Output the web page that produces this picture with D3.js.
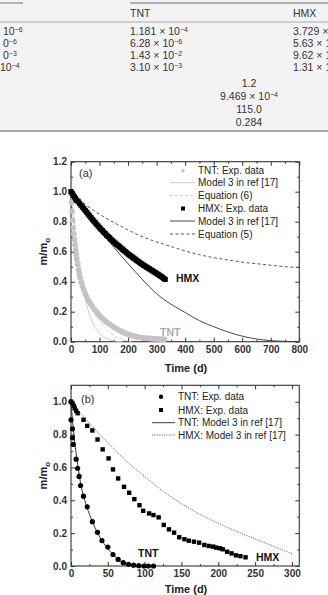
<!DOCTYPE html>
<html><head><meta charset="utf-8">
<script src="https://cdn.jsdelivr.net/npm/d3@7"></script>
<style>body{margin:0;background:#fff}svg{display:block}</style></head>
<body><svg id="c" width="328" height="595"></svg>
<script>
// ---------- table fragment data ----------
const tableHeaders = ["TNT", "HMX"];
const tableLeft = ["10^-6", "0^-6", "0^-3", "10^-4"];
const tableTNT = ["1.181 × 10^-4", "6.28 × 10^-6", "1.43 × 10^-2", "3.10 × 10^-3"];
const tableHMX = ["3.729 ×", "5.63 × 1", "9.62 × 1", "1.31 × 1"];
const tableShared = ["1.2", "9.469 × 10^-4", "115.0", "0.284"];

// ---------- panel (a) data ----------
const xTicksA = [0, 100, 200, 300, 400, 500, 600, 700, 800];
const yTicksA = [0.0, 0.2, 0.4, 0.6, 0.8, 1.0, 1.2];
const tntExpA = [[0,1.0],[2,0.93],[4,0.87],[6,0.81],[8,0.76],[10,0.72],[12,0.68],[14,0.645],[16,0.61],[18,0.58],[20,0.55],[23,0.515],[26,0.48],[29,0.45],[32,0.425],[36,0.395],[40,0.37],[45,0.345],[50,0.32],[55,0.30],[60,0.28],[65,0.265],[70,0.25],[75,0.235],[80,0.22],[85,0.21],[90,0.2],[95,0.187],[100,0.175],[106,0.163],[112,0.152],[118,0.142],[124,0.132],[130,0.124],[136,0.116],[142,0.108],[148,0.1],[154,0.093],[160,0.086],[166,0.079],[172,0.073],[178,0.067],[184,0.062],[190,0.057],[196,0.052],[202,0.048],[208,0.044],[214,0.041],[220,0.038],[226,0.035],[232,0.032],[238,0.03],[244,0.028],[250,0.026],[256,0.025],[262,0.024],[268,0.023],[274,0.022],[280,0.021],[286,0.02],[292,0.02],[298,0.019],[304,0.018],[310,0.018],[316,0.017],[322,0.016],[328,0.016]];
const tntModelA = [[0,1.0],[10,0.8],[20,0.62],[30,0.48],[40,0.37],[50,0.28],[60,0.21],[70,0.155],[80,0.11],[90,0.08],[100,0.055],[120,0.025],[140,0.01],[160,0.003],[180,0.0]];
const tntEq6A = [[0,1.0],[10,0.82],[20,0.66],[30,0.54],[40,0.44],[50,0.36],[60,0.3],[70,0.25],[80,0.2],[100,0.135],[120,0.09],[140,0.055],[160,0.03],[180,0.015],[200,0.005],[220,0.0]];
const hmxExpA = [[0,1.0],[4,0.988],[8,0.976],[12,0.965],[16,0.953],[20,0.942],[25,0.935],[30,0.922],[35,0.91],[40,0.898],[45,0.887],[50,0.875],[55,0.863],[60,0.851],[65,0.839],[70,0.827],[75,0.815],[80,0.804],[85,0.793],[90,0.782],[95,0.771],[100,0.76],[105,0.75],[110,0.74],[115,0.73],[120,0.72],[125,0.71],[130,0.701],[135,0.692],[140,0.683],[145,0.674],[150,0.665],[155,0.657],[160,0.649],[165,0.641],[170,0.633],[175,0.625],[180,0.617],[185,0.609],[190,0.601],[195,0.593],[200,0.585],[205,0.578],[210,0.571],[215,0.564],[220,0.557],[225,0.55],[230,0.543],[235,0.536],[240,0.529],[245,0.522],[250,0.515],[255,0.509],[260,0.503],[265,0.497],[270,0.491],[275,0.485],[280,0.479],[285,0.473],[290,0.467],[295,0.461],[300,0.455],[305,0.449],[310,0.442],[315,0.436],[320,0.43],[325,0.422],[330,0.415]];
const hmxModelA = [[0,1.0],[50,0.875],[100,0.75],[150,0.63],[200,0.52],[250,0.415],[300,0.32],[350,0.25],[400,0.195],[450,0.14],[500,0.1],[550,0.065],[600,0.037],[650,0.018],[700,0.007],[750,0.002],[800,0.0]];
const hmxEq5A = [[0,1.0],[50,0.915],[100,0.85],[150,0.795],[200,0.745],[250,0.70],[300,0.665],[350,0.635],[400,0.605],[450,0.58],[500,0.56],[550,0.545],[600,0.53],[650,0.52],[700,0.51],[750,0.50],[800,0.495]];
const legendA = ["TNT: Exp. data", "Model 3 in ref [17]", "Equation (6)", "HMX: Exp. data", "Model 3 in ref [17]", "Equation (5)"];

// ---------- panel (b) data ----------
const xTicksB = [0, 50, 100, 150, 200, 250, 300];
const yTicksB = [0.0, 0.2, 0.4, 0.6, 0.8, 1.0];
const tntExpB = [[0,1.0],[0,0.89],[2,0.835],[2,0.78],[3,0.74],[7,0.65],[9,0.595],[11,0.545],[13,0.49],[17,0.425],[22,0.36],[29,0.27],[36,0.205],[42,0.155],[50,0.115],[57,0.07],[64,0.04],[71,0.02],[78,0.01],[85,0.005],[92,0.002],[99,0.0],[105,0.0],[112,0.0]];
const tntModelB = [[0,1.0],[3,0.84],[6,0.72],[9,0.62],[12,0.53],[15,0.46],[20,0.38],[25,0.315],[30,0.26],[35,0.21],[40,0.17],[45,0.135],[50,0.105],[55,0.08],[60,0.055],[65,0.035],[70,0.02],[75,0.01],[80,0.004],[85,0.001],[90,0.0],[112,0.0]];
const hmxExpB = [[0,1.0],[2,0.99],[4,0.975],[5,0.96],[7,0.945],[9,0.93],[17,0.89],[22,0.853],[29,0.825],[36,0.77],[43,0.71],[51,0.655],[57,0.588],[64,0.533],[72,0.482],[79,0.446],[86,0.407],[93,0.37],[98,0.336],[106,0.32],[112,0.31],[119,0.296],[126,0.25],[133,0.223],[140,0.203],[147,0.175],[154,0.163],[160,0.154],[167,0.148],[174,0.142],[181,0.128],[187,0.122],[193,0.118],[197,0.112],[202,0.108],[206,0.102],[212,0.087],[218,0.077],[224,0.065],[230,0.06],[237,0.053]];
const hmxModelB = [[0,1.0],[25,0.87],[50,0.75],[75,0.64],[100,0.545],[125,0.455],[150,0.38],[175,0.315],[200,0.26],[225,0.21],[250,0.165],[275,0.12],[300,0.075]];
const legendB = ["TNT: Exp. data", "HMX: Exp. data", "TNT: Model 3 in ref [17]", "HMX: Model 3 in ref [17]"];

// ---------- drawing ----------
const svg = d3.select("#c");
const FONT = "'Liberation Sans', Arial, sans-serif";
const TFONT = "'Liberation Sans', Arial, sans-serif";

// table background
svg.append("rect").attr("x",0).attr("y",0).attr("width",328).attr("height",131).attr("fill","#f3f3f3");
svg.append("line").attr("x1",0).attr("x2",328).attr("y1",131).attr("y2",131).attr("stroke","#8a8a8a").attr("stroke-width",1.6);
svg.append("line").attr("x1",0).attr("x2",23).attr("y1",3).attr("y2",3).attr("stroke","#999").attr("stroke-width",1.4);
svg.append("line").attr("x1",130).attr("x2",328).attr("y1",3).attr("y2",3).attr("stroke","#999").attr("stroke-width",1.4);
svg.append("line").attr("x1",0).attr("x2",328).attr("y1",22).attr("y2",22).attr("stroke","#aaa").attr("stroke-width",1);

function richText(g, str, x, y, anchor) {
  const t = g.append("text").attr("x", x).attr("y", y).attr("text-anchor", anchor || "start")
    .attr("font-family", TFONT).attr("font-size", 10.5).attr("fill", "#333");
  const parts = str.split("^");
  t.append("tspan").text(parts[0]);
  if (parts[1]) t.append("tspan").attr("dy", -3.5).attr("font-size", 7).text(parts[1].replace("-", "\u2212"));
  return t;
}
const tg = svg.append("g");
tg.append("text").attr("x",130).attr("y",17).attr("font-family",TFONT).attr("font-size",10.5).attr("fill","#333").text(tableHeaders[0]);
tg.append("text").attr("x",293).attr("y",17).attr("font-family",TFONT).attr("font-size",10.5).attr("fill","#333").text(tableHeaders[1]);
const rowY = [35, 47, 59, 71];
const leftX = [3, 3, 3, 0];
tableLeft.forEach((s,i) => richText(tg, s, leftX[i], rowY[i]));
tableTNT.forEach((s,i) => richText(tg, s, 130, rowY[i]));
tableHMX.forEach((s,i) => richText(tg, s, 293, rowY[i]));
const sharedY = [87, 100, 113, 126];
tableShared.forEach((s,i) => richText(tg, s, 249, sharedY[i], "middle"));

// generic panel
function panel(cfg) {
  const x = d3.scaleLinear().domain(cfg.xDomain).range([71, 299.3]);
  const y = d3.scaleLinear().domain(cfg.yDomain).range([cfg.bottom, cfg.top]);
  const g = svg.append("g");
  const fmtY = d3.format(".1f");
  const minorX = cfg.minorX, minorY = cfg.minorY;
  const axStyle = sel => { sel.select(".domain").remove(); sel.selectAll("line").attr("stroke","#333"); sel.selectAll("text").attr("font-family",FONT).attr("font-weight","bold").attr("font-size",10).attr("fill","#333"); };
  g.append("g").attr("transform",`translate(0,${cfg.bottom})`).call(d3.axisBottom(x).tickValues(minorX).tickSize(-2).tickFormat("")).call(axStyle);
  g.append("g").attr("transform",`translate(0,${cfg.top})`).call(d3.axisTop(x).tickValues(minorX).tickSize(-2).tickFormat("")).call(axStyle);
  g.append("g").attr("transform",`translate(71,0)`).call(d3.axisLeft(y).tickValues(minorY).tickSize(-2).tickFormat("")).call(axStyle);
  g.append("g").attr("transform",`translate(299.3,0)`).call(d3.axisRight(y).tickValues(minorY).tickSize(-2).tickFormat("")).call(axStyle);
  g.append("g").attr("transform",`translate(0,${cfg.bottom})`).call(d3.axisBottom(x).tickValues(cfg.xTicks).tickSize(-4).tickPadding(4).tickFormat(d3.format("d"))).call(axStyle);
  g.append("g").attr("transform",`translate(0,${cfg.top})`).call(d3.axisTop(x).tickValues(cfg.xTicks).tickSize(-4).tickFormat("")).call(axStyle);
  g.append("g").attr("transform",`translate(71,0)`).call(d3.axisLeft(y).tickValues(cfg.yTicks).tickSize(-4).tickPadding(4).tickFormat(fmtY)).call(axStyle);
  g.append("g").attr("transform",`translate(299.3,0)`).call(d3.axisRight(y).tickValues(cfg.yTicks).tickSize(-4).tickFormat("")).call(axStyle);
  g.append("rect").attr("x",71).attr("y",cfg.top).attr("width",228.3).attr("height",cfg.bottom-cfg.top)
    .attr("fill","none").attr("stroke","#333").attr("stroke-width",1.1);
  const yl = g.append("text").attr("transform",`translate(47,${(cfg.top+cfg.bottom)/2}) rotate(-90)`)
    .attr("text-anchor","middle").attr("font-family",FONT).attr("font-weight","bold").attr("font-size",11).attr("fill","#222");
  yl.append("tspan").text("m/m");
  yl.append("tspan").attr("dy",3).attr("font-size",8).text("o");
  g.append("text").attr("x",186).attr("y",cfg.xLabelY).attr("text-anchor","middle").attr("font-family",FONT)
    .attr("font-weight","bold").attr("font-size",11).attr("fill","#222").text("Time (d)");
  g.append("text").attr("x",cfg.tagX).attr("y",cfg.tagY).attr("font-family",FONT).attr("font-size",11).attr("fill","#333").text(cfg.tag);
  return {x, y, g};
}

// ---- panel (a)
const A = panel({xDomain:[0,800], yDomain:[0,1.2], top:161.7, bottom:341.7, xTicks:xTicksA, yTicks:yTicksA,
  minorX:d3.range(50,800,100), minorY:d3.range(0.1,1.2,0.2), xLabelY:372, tag:"(a)", tagX:79, tagY:177});
const lineA = d3.line().x(d => A.x(d[0])).y(d => A.y(d[1])).curve(d3.curveMonotoneX);
A.g.append("path").attr("d", lineA(tntModelA)).attr("fill","none").attr("stroke","#c8c8c8").attr("stroke-width",0.9);
A.g.append("path").attr("d", lineA(tntEq6A)).attr("fill","none").attr("stroke","#c8c8c8").attr("stroke-width",0.9).attr("stroke-dasharray","3,2");
A.g.selectAll(".tntA").data(tntExpA).join("circle").attr("cx",d=>A.x(d[0])).attr("cy",d=>A.y(d[1])).attr("r",2.8).attr("fill","#c4c4c4");
A.g.append("path").attr("d", lineA(hmxModelA)).attr("fill","none").attr("stroke","#333").attr("stroke-width",0.9);
A.g.append("path").attr("d", lineA(hmxEq5A)).attr("fill","none").attr("stroke","#444").attr("stroke-width",0.9).attr("stroke-dasharray","3,2.5");
A.g.selectAll(".hmxA").data(hmxExpA).join("rect").attr("x",d=>A.x(d[0])-2.6).attr("y",d=>A.y(d[1])-2.6).attr("width",5.2).attr("height",5.2).attr("fill","#000");
A.g.append("text").attr("x",176).attr("y",282).attr("font-family",FONT).attr("font-weight","bold").attr("font-size",10.5).attr("fill","#111").text("HMX");
A.g.append("text").attr("x",160).attr("y",336).attr("font-family",FONT).attr("font-weight","bold").attr("font-size",10.5).attr("fill","#aaa").text("TNT");
const legAY = [170.7, 182.7, 195.5, 208.5, 221, 234];
const legA = A.g.append("g");
legendA.forEach((s,i) => legA.append("text").attr("x",198).attr("y",legAY[i]+3.5).attr("font-family",FONT).attr("font-size",10).attr("fill","#222").text(s));
legA.append("circle").attr("cx",183).attr("cy",legAY[0]).attr("r",1.8).attr("fill","#c4c4c4");
legA.append("line").attr("x1",170).attr("x2",195).attr("y1",legAY[1]).attr("y2",legAY[1]).attr("stroke","#c8c8c8").attr("stroke-width",0.9);
legA.append("line").attr("x1",170).attr("x2",195).attr("y1",legAY[2]).attr("y2",legAY[2]).attr("stroke","#c8c8c8").attr("stroke-width",0.9).attr("stroke-dasharray","3,2");
legA.append("rect").attr("x",181).attr("y",legAY[3]-2).attr("width",4).attr("height",4).attr("fill","#000");
legA.append("line").attr("x1",170).attr("x2",195).attr("y1",legAY[4]).attr("y2",legAY[4]).attr("stroke","#333").attr("stroke-width",0.9);
legA.append("line").attr("x1",170).attr("x2",195).attr("y1",legAY[5]).attr("y2",legAY[5]).attr("stroke","#444").attr("stroke-width",0.9).attr("stroke-dasharray","3,2.5");

// ---- panel (b)
const B = panel({xDomain:[0,310], yDomain:[0,1.1], top:385.3, bottom:566, xTicks:xTicksB, yTicks:yTicksB,
  minorX:d3.range(25,310,50), minorY:d3.range(0.1,1.1,0.2), xLabelY:593, tag:"(b)", tagX:81, tagY:403});
const lineB = d3.line().x(d => B.x(d[0])).y(d => B.y(d[1])).curve(d3.curveMonotoneX);
B.g.append("path").attr("d", lineB(hmxModelB)).attr("fill","none").attr("stroke","#444").attr("stroke-width",0.8).attr("stroke-dasharray","1.2,1.2");
B.g.append("path").attr("d", lineB(tntModelB)).attr("fill","none").attr("stroke","#222").attr("stroke-width",0.9);
B.g.selectAll(".tntB").data(tntExpB).join("circle").attr("cx",d=>B.x(d[0])).attr("cy",d=>B.y(d[1])).attr("r",2.6).attr("fill","#000");
B.g.selectAll(".hmxB").data(hmxExpB).join("rect").attr("x",d=>B.x(d[0])-2.2).attr("y",d=>B.y(d[1])-2.2).attr("width",4.4).attr("height",4.4).attr("fill","#000");
B.g.append("text").attr("x",138).attr("y",556.5).attr("font-family",FONT).attr("font-weight","bold").attr("font-size",10.5).attr("fill","#111").text("TNT");
B.g.append("text").attr("x",256).attr("y",561).attr("font-family",FONT).attr("font-weight","bold").attr("font-size",10.5).attr("fill","#111").text("HMX");
const legBY = [396.7, 410, 422.7, 435];
const legB = B.g.append("g");
legendB.forEach((s,i) => legB.append("text").attr("x",178).attr("y",legBY[i]+3.5).attr("font-family",FONT).attr("font-size",10).attr("fill","#222").text(s));
legB.append("circle").attr("cx",161).attr("cy",legBY[0]).attr("r",2.2).attr("fill","#000");
legB.append("rect").attr("x",159).attr("y",legBY[1]-2).attr("width",4).attr("height",4).attr("fill","#000");
legB.append("line").attr("x1",152).attr("x2",175).attr("y1",legBY[2]).attr("y2",legBY[2]).attr("stroke","#222").attr("stroke-width",0.9);
legB.append("line").attr("x1",152).attr("x2",175).attr("y1",legBY[3]).attr("y2",legBY[3]).attr("stroke","#444").attr("stroke-width",0.8).attr("stroke-dasharray","1.2,1.2");
</script></body></html>
